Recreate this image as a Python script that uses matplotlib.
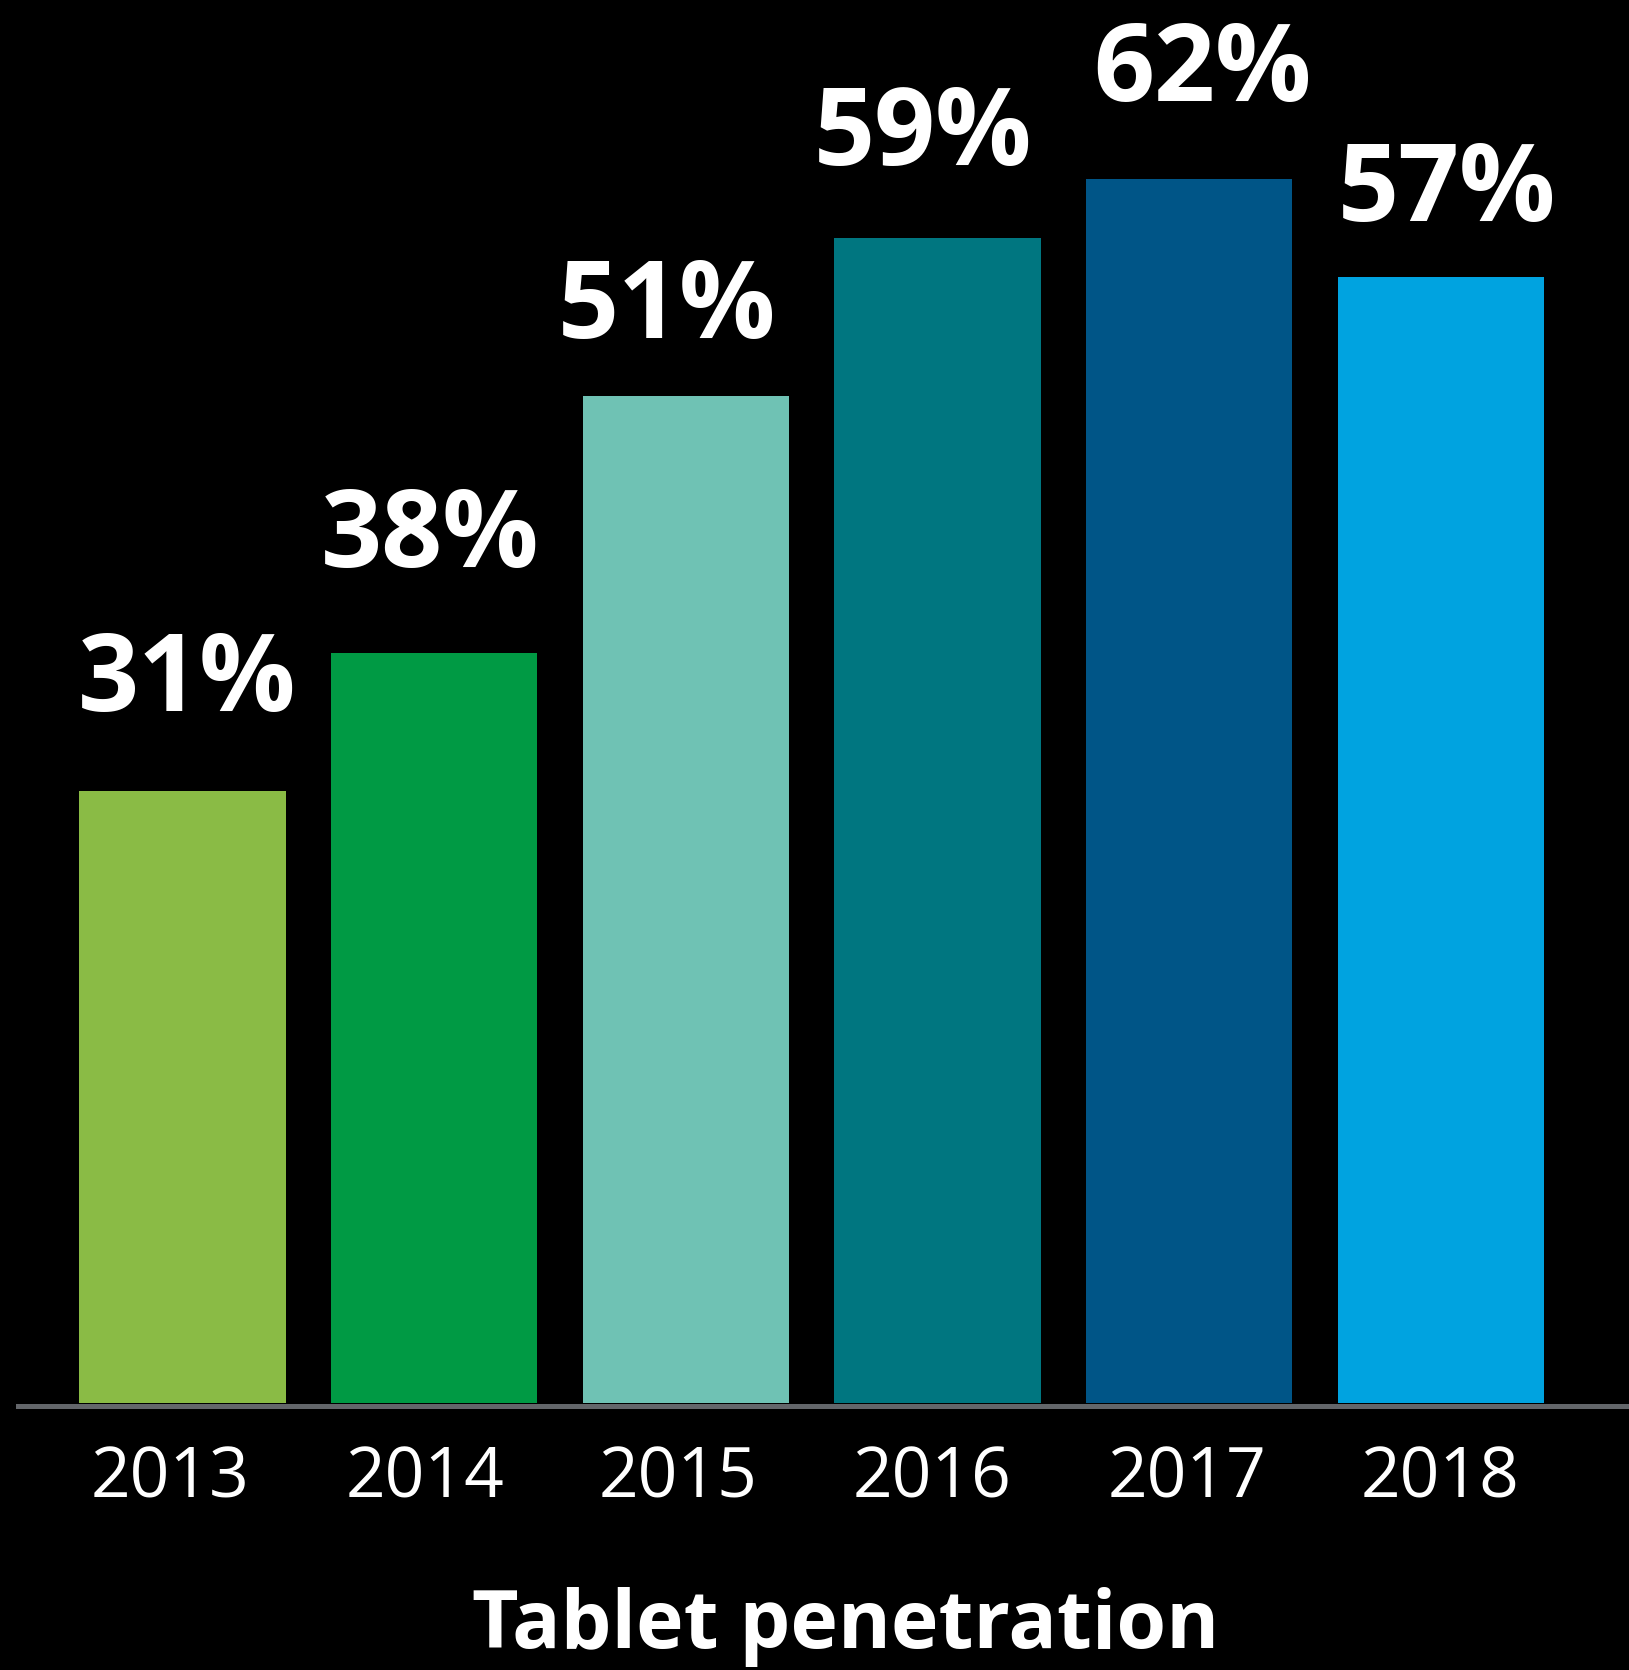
import matplotlib
matplotlib.use("Agg")
import matplotlib.pyplot as plt

plt.rcParams['font.family'] = ['Open Sans', 'DejaVu Sans']

# tablet penetration by year
years = ["2013", "2014", "2015", "2016", "2017", "2018"]
penetration = [31, 38, 51, 59, 62, 57]
barColors = ["#8ABB45", "#009A44", "#6FC2B4", "#007680", "#005587", "#00A3E0"]

# hand-placed nudges for the value labels and year labels (pixels)
labelDx = [5, -4, -19, -15, 13, 6]
labelGap = [80, 85, 58, 73, 77, 56]
yearDx = [-12, -9, -8, -6, -2, -1]

W, H = 1629, 1670
pxPerPct = 19.75
barPitch = 251.7
fig = plt.figure(figsize=(W / 100, H / 100), dpi=100, facecolor="black")

# axes bottom sits on the baseline, top at the figure edge
baseY = 1403
ax = fig.add_axes([18 / W, (H - baseY) / H, 1 - 18 / W, baseY / H])
ax.set_facecolor("black")

xs = list(range(len(years)))
ax.bar(xs, penetration, width=0.82, color=barColors, zorder=2)
# grey baseline just under the bars
ax.axhline(-2.5 / pxPerPct, color="#63666A", linewidth=3.6, zorder=3, clip_on=False)

ax.set_xlim(-(182.5 - 18) / barPitch, (W - 182.5) / barPitch)
ax.set_ylim(0, baseY / pxPerPct)

for x, v, dx, gap in zip(xs, penetration, labelDx, labelGap):
    ax.annotate(str(v) + "%", (x, v), xytext=(dx * 0.72, gap * 0.72),
                textcoords="offset points", ha="center", va="baseline",
                color="white", fontsize=77, fontweight="bold")

ax.set_xticks([x + d / barPitch for x, d in zip(xs, yearDx)])
ax.set_xticklabels(years, color="white", fontsize=50)
ax.tick_params(axis="x", length=0, pad=30)
ax.set_yticks([])
for s in ax.spines.values():
    s.set_visible(False)

fig.text(846 / W, (H - 1648) / H, "Tablet penetration", ha="center", va="baseline",
         color="white", fontsize=58, fontweight="bold")

fig.savefig("out.png", dpi=100, facecolor="black")
